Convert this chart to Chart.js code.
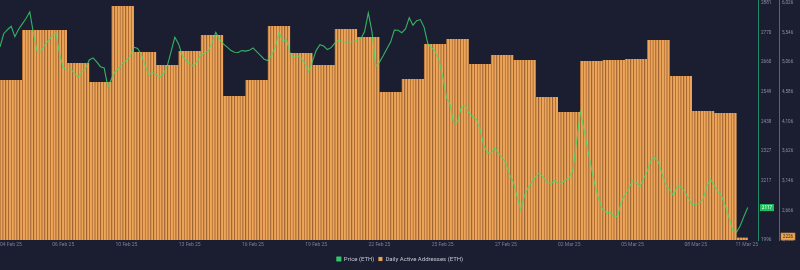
<!doctype html>
<html lang="en">
<head>
<meta charset="utf-8">
<title>ETH price and daily active addresses</title>
<style>
    * {
        margin: 0;
        padding: 0;
    }

    body {
        background: #1b1e31;
        width: 800px;
        height: 270px;
        overflow: hidden;
    }

    .chartBox {
        width: 800px;
        height: 270px;
    }
</style>
</head>
<body>
<div class="chartBox">
    <canvas id="myChart" width="800" height="270"></canvas>
</div>
<script src="https://cdn.jsdelivr.net/npm/chart.js"></script>
<script>
    // setup
    const tickLabels = ['04 Feb 25', '06 Feb 25', '10 Feb 25', '13 Feb 25', '16 Feb 25', '19 Feb 25', '22 Feb 25',
        '25 Feb 25', '27 Feb 25', '02 Mar 25', '05 Mar 25', '08 Mar 25', '11 Mar 25'];
    const tickStepHours = 68;

    // price, one reading every 4 hours from 04 Feb 00:00
    const priceStepHours = 4;
    const prices = [
        2717, 2766, 2781, 2794, 2755, 2783, 2803, 2823, 2848, 2767,
        2698, 2701, 2723, 2740, 2758, 2770, 2692, 2639, 2631, 2635,
        2618, 2605, 2623, 2637, 2668, 2676, 2661, 2643, 2638, 2567,
        2599, 2626, 2639, 2656, 2667, 2682, 2716, 2711, 2688, 2648,
        2614, 2621, 2614, 2605, 2617, 2648, 2700, 2753, 2728, 2684,
        2666, 2657, 2644, 2663, 2688, 2694, 2702, 2732, 2771, 2745,
        2728, 2717, 2704, 2697, 2696, 2703, 2701, 2704, 2713, 2699,
        2685, 2671, 2666, 2686, 2717, 2771, 2738, 2745, 2692, 2678,
        2685, 2674, 2654, 2625, 2664, 2704, 2725, 2720, 2707, 2714,
        2731, 2742, 2736, 2735, 2735, 2736, 2742, 2747, 2774, 2844,
        2773, 2644, 2660, 2684, 2710, 2735, 2780, 2779, 2770, 2784,
        2826, 2798, 2815, 2819, 2790, 2729, 2714, 2699, 2668, 2607,
        2529, 2501, 2429, 2437, 2492, 2499, 2471, 2457, 2448, 2411,
        2351, 2323, 2320, 2340, 2320, 2304, 2282, 2240, 2212, 2158,
        2110, 2161, 2192, 2213, 2232, 2248, 2230, 2212, 2204, 2218,
        2208, 2208, 2221, 2227, 2258, 2366, 2474, 2408, 2332, 2263,
        2196, 2145, 2109, 2098, 2099, 2085, 2084, 2138, 2165, 2187,
        2217, 2211, 2195, 2225, 2253, 2293, 2305, 2288, 2242, 2202,
        2183, 2162, 2195, 2195, 2178, 2153, 2129, 2130, 2134, 2150,
        2195, 2223, 2199, 2178, 2159, 2123, 2077, 2032, 2026, 2050,
        2085, 2117
    ];

    // daily active addresses, one value per day
    const addresses = [
        4779, 5589, 5589, 5054, 4746, 5977, 5232, 5022, 5248, 5508,
        4519, 4779, 5653, 5216, 5022, 5605, 5475, 4584, 4795, 5362,
        5443, 5038, 5184, 5103, 4503, 4260, 5086, 5103, 5119, 5427,
        4843, 4276, 4244, 2226
    ];
    const addressSlotHours = 3;

    const priceTicks = [1996, 2107, 2217, 2328, 2438, 2549, 2660, 2770, 2881];
    const priceTickLabels = ['1996', '2106', '2217', '2327', '2438', '2549', '2660', '2770', '2881'];
    const addressTicks = [2186, 2666, 3146, 3626, 4106, 4586, 5066, 5546, 6026];

    const lastHour = (prices.length - 1) * priceStepHours;
    const pricePoints = prices.map((v, i) => ({x: i * priceStepHours, y: v}));
    const addressPoints = [];
    addresses.forEach((v, d) => {
        for (let h = d * 24; h < d * 24 + 24 && h < lastHour; h += addressSlotHours) {
            addressPoints.push({x: h + addressSlotHours / 2, y: v});
        }
    });

    const data = {
        datasets: [{
            type: 'line',
            label: 'Price (ETH)',
            data: pricePoints,
            yAxisID: 'y',
            borderColor: 'rgba(60, 222, 110, 0.78)',
            backgroundColor: '#27c46a',
            borderWidth: 1.1,
            pointRadius: 0,
            pointStyle: 'rect',
            tension: 0,
            order: 0
        }, {
            type: 'bar',
            label: 'Daily Active Addresses (ETH)',
            data: addressPoints,
            yAxisID: 'y1',
            backgroundColor: '#eca65c',
            borderColor: '#b36d2f',
            borderWidth: {left: 1, right: 0, top: 0, bottom: 0},
            borderSkipped: false,
            categoryPercentage: 1,
            barPercentage: 1,
            pointStyle: 'rect',
            order: 1
        }]
    };

    // boxes with the last value on each right axis
    const lastValues = {
        id: 'lastValues',
        afterDraw(chart) {
            const {ctx, scales: {y, y1}} = chart;
            ctx.save();
            ctx.font = '4.6px Roboto';
            ctx.textBaseline = 'middle';
            ctx.textAlign = 'center';

            const p = prices[prices.length - 1];
            const py = y.getPixelForValue(p);
            ctx.fillStyle = '#1fbf5c';
            ctx.fillRect(y.left + 2, py - 3.5, 14, 7);
            ctx.fillStyle = '#ffffff';
            ctx.fillText(String(p), y.left + 9, py);

            const a = addresses[addresses.length - 1];
            const ay = Math.min(y1.getPixelForValue(a), y1.bottom - 3.5);
            ctx.fillStyle = '#f0a552';
            ctx.fillRect(y1.left + 2, ay - 3.5, 14, 7);
            ctx.strokeStyle = '#c98237';
            ctx.lineWidth = 0.6;
            ctx.strokeRect(y1.left + 2, ay - 3.5, 14, 7);
            ctx.fillStyle = '#3a2608';
            ctx.fillText(String(a), y1.left + 9, ay);
            ctx.restore();
        }
    };

    // config
    const config = {
        data,
        options: {
            responsive: false,
            animation: false,
            events: [],
            layout: {padding: {bottom: -2}},
            scales: {
                x: {
                    type: 'linear',
                    min: 0,
                    max: 815,
                    offset: false,
                    grid: {display: false, drawTicks: false},
                    border: {display: false},
                    ticks: {
                        color: '#7a7f94',
                        font: {size: 5, family: 'Roboto'},
                        padding: 2,
                        align: 'inner',
                        maxRotation: 0,
                        autoSkip: false,
                        callback: (value, index) => tickLabels[index]
                    },
                    afterBuildTicks(scale) {
                        scale.ticks = tickLabels.map((t, i) => ({
                            value: i < tickLabels.length - 1 ? i * tickStepHours : scale.max
                        }));
                    },
                    afterFit(scale) {
                        scale.height = 12;
                        scale.paddingLeft = 0;
                        scale.paddingRight = 0;
                    }
                },
                y: {
                    position: 'right',
                    weight: 0,
                    min: 1996,
                    max: 2892,
                    grid: {display: false, drawTicks: false},
                    border: {color: '#1d8d68', width: 1},
                    ticks: {
                        color: '#8a8fa3',
                        font: {size: 4.6, family: 'Roboto'},
                        padding: 3,
                        callback: (value, index) => priceTickLabels[index]
                    },
                    afterBuildTicks(scale) {
                        scale.ticks = priceTicks.map(v => ({value: v}));
                    },
                    afterFit(scale) {
                        scale.width = 21;
                        scale.paddingTop = 0;
                        scale.paddingBottom = 0;
                    }
                },
                y1: {
                    position: 'right',
                    weight: 1,
                    min: 2186,
                    max: 6075,
                    grid: {display: false, drawTicks: false},
                    border: {color: '#7e5a4d', width: 1},
                    ticks: {
                        color: '#8a8fa3',
                        font: {size: 4.6, family: 'Roboto'},
                        padding: 3
                    },
                    afterBuildTicks(scale) {
                        scale.ticks = addressTicks.map(v => ({value: v}));
                    },
                    afterFit(scale) {
                        scale.width = 21;
                        scale.paddingTop = 0;
                        scale.paddingBottom = 0;
                    }
                }
            },
            plugins: {
                legend: {
                    position: 'bottom',
                    labels: {
                        color: '#c3c6d1',
                        font: {size: 6, family: 'Roboto'},
                        usePointStyle: true,
                        boxWidth: 4,
                        boxHeight: 4,
                        padding: 4
                    }
                },
                tooltip: {enabled: false}
            }
        },
        plugins: [lastValues]
    };

    // render init block
    const myChart = new Chart(
        document.getElementById('myChart'),
        config
    );
</script>
</body>
</html>
